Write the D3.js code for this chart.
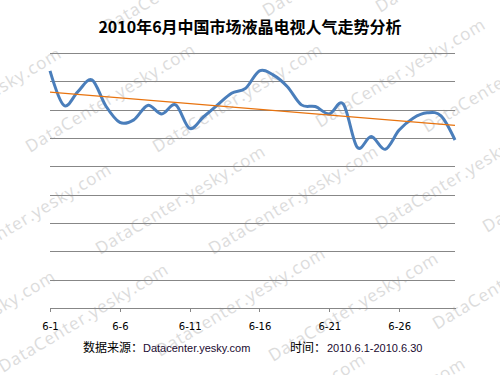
<!DOCTYPE html>
<html>
<head>
<meta charset="utf-8">
<script src="https://cdn.jsdelivr.net/npm/d3@7"></script>
<style>
  body { margin: 0; background: #fff; }
  svg { display: block; }
</style>
</head>
<body>
<script>
const width = 500;
const height = 375;
const margin = { top: 53, right: 45, bottom: 67, left: 50 };

const days = d3.range(1, 31).map((d) => "6-" + d);
const tickLabels = ["6-1", "6-6", "6-11", "6-16", "6-21", "6-26"];
const popularity = [
  83.7, 71.5, 76.4, 80.5, 71.3, 65.5, 66.4, 71.5, 68.5, 71.7,
  63.4, 67.5, 71.7, 75.8, 77.5, 83.7, 82.2, 78.1, 71.7, 71.1,
  68.5, 72.0, 56.7, 60.5, 56.0, 62.8, 67.0, 68.9, 67.8, 59.3,
];
const gridValues = [10, 20, 30, 40, 50, 60, 70, 80, 90];
const title = "2010年6月中国市场液晶电视人气走势分析";
const sourceLabel = "数据来源：";
const sourceText = "Datacenter.yesky.com";
const timeLabel = "时间：";
const timeText = "2010.6.1-2010.6.30";
const watermark = "DataCenter.yesky.com";

// where each watermark copy starts (left end of baseline)
const markSpots = [
  [107, 33], [267, 17], [380, 13],
  [-104, 157], [30, 153], [157, 153], [320, 128], [427, 133],
  [-54, 273], [100, 255], [213, 255], [380, 230], [487, 233],
  [-110, 380], [3, 373], [160, 357], [273, 362], [437, 330],
  [200, 463], [300, 467],
];

const svg = d3
  .select("body")
  .append("svg")
  .attr("width", width)
  .attr("height", height);

svg.append("rect").attr("width", width).attr("height", height).attr("fill", "#fff");

const xScale = d3
  .scalePoint()
  .domain(days)
  .range([margin.left, width - margin.right]);

const yScale = d3
  .scaleLinear()
  .domain([0, 90])
  .range([height - margin.bottom, margin.top]);

const setWatermark = () => {
  svg
    .append("g")
    .attr("class", "watermark")
    .selectAll("text")
    .data(markSpots)
    .enter()
    .append("text")
    .text(watermark)
    .attr("transform", (d) => `translate(${d[0]},${d[1]}) rotate(-31)`)
    .attr("font-family", "Open Sans, sans-serif")
    .attr("font-size", 17)
    .attr("textLength", 194)
    .attr("fill", "#dcdcdc");
};

const setAxes = () => {
  svg
    .append("g")
    .attr("transform", `translate(${margin.left},0)`)
    .call(
      d3
        .axisLeft(yScale)
        .tickValues(gridValues)
        .tickSize(-(width - margin.left - margin.right))
        .tickFormat("")
    )
    .call((g) => g.select(".domain").remove())
    .call((g) => g.selectAll("line").attr("stroke", "#878787").attr("shape-rendering", "crispEdges"));

  svg
    .append("g")
    .attr("transform", `translate(0,${height - margin.bottom})`)
    .call(d3.axisBottom(xScale).tickValues(tickLabels).tickSize(4).tickSizeOuter(0).tickPadding(11))
    .call((g) => g.select(".domain").attr("stroke", "#878787").attr("shape-rendering", "crispEdges"))
    .call((g) => g.selectAll("line").attr("stroke", "#878787").attr("shape-rendering", "crispEdges"))
    .call((g) =>
      g
        .selectAll("text")
        .attr("fill", "#000")
        .attr("font-family", "DejaVu Sans, sans-serif")
        .attr("font-size", 10)
    );
};

const setLines = () => {
  const line = d3
    .line()
    .x((d, i) => xScale(days[i]))
    .y((d) => yScale(d))
    .curve(d3.curveCardinal.tension(0));

  svg
    .append("path")
    .datum(popularity)
    .attr("d", line)
    .attr("fill", "none")
    .attr("stroke", "#4A7EBB")
    .attr("stroke-width", 3)
    .attr("stroke-linejoin", "round");

  // linear trend (least squares)
  const n = popularity.length;
  const xs = d3.range(1, n + 1);
  const mx = d3.mean(xs);
  const my = d3.mean(popularity);
  const slope =
    d3.sum(xs, (x, i) => (x - mx) * (popularity[i] - my)) /
    d3.sum(xs, (x) => (x - mx) * (x - mx));
  const intercept = my - slope * mx;
  const trend = [1, n].map((x) => ({ day: days[x - 1], v: intercept + slope * x }));

  svg
    .append("path")
    .datum(trend)
    .attr("d", d3.line().x((d) => xScale(d.day)).y((d) => yScale(d.v)))
    .attr("fill", "none")
    .attr("stroke", "#E8730E")
    .attr("stroke-width", 1.2);
};

const setText = () => {
  svg
    .append("text")
    .text(title)
    .attr("x", 250)
    .attr("y", 33)
    .attr("text-anchor", "middle")
    .attr("font-family", "Noto Sans CJK SC, sans-serif")
    .attr("font-weight", "bold")
    .attr("font-size", 16)
    .attr("fill", "#000");

  const foot = svg
    .append("text")
    .attr("y", 352)
    .attr("font-size", 11)
    .attr("fill", "#000");

  foot
    .append("tspan")
    .attr("x", 83)
    .attr("font-family", "Noto Sans CJK SC, sans-serif")
    .attr("font-size", 12)
    .text(sourceLabel);
  foot
    .append("tspan")
    .attr("x", 143)
    .attr("font-family", "Liberation Sans, sans-serif")
    .attr("fill", "#1a0a30")
    .text(sourceText);
  foot
    .append("tspan")
    .attr("x", 290)
    .attr("font-family", "Noto Sans CJK SC, sans-serif")
    .attr("font-size", 12)
    .text(timeLabel);
  foot
    .append("tspan")
    .attr("x", 327)
    .attr("font-family", "Liberation Sans, sans-serif")
    .attr("fill", "#1a0a30")
    .text(timeText);
};

setWatermark();
setAxes();
setLines();
setText();
</script>
</body>
</html>
